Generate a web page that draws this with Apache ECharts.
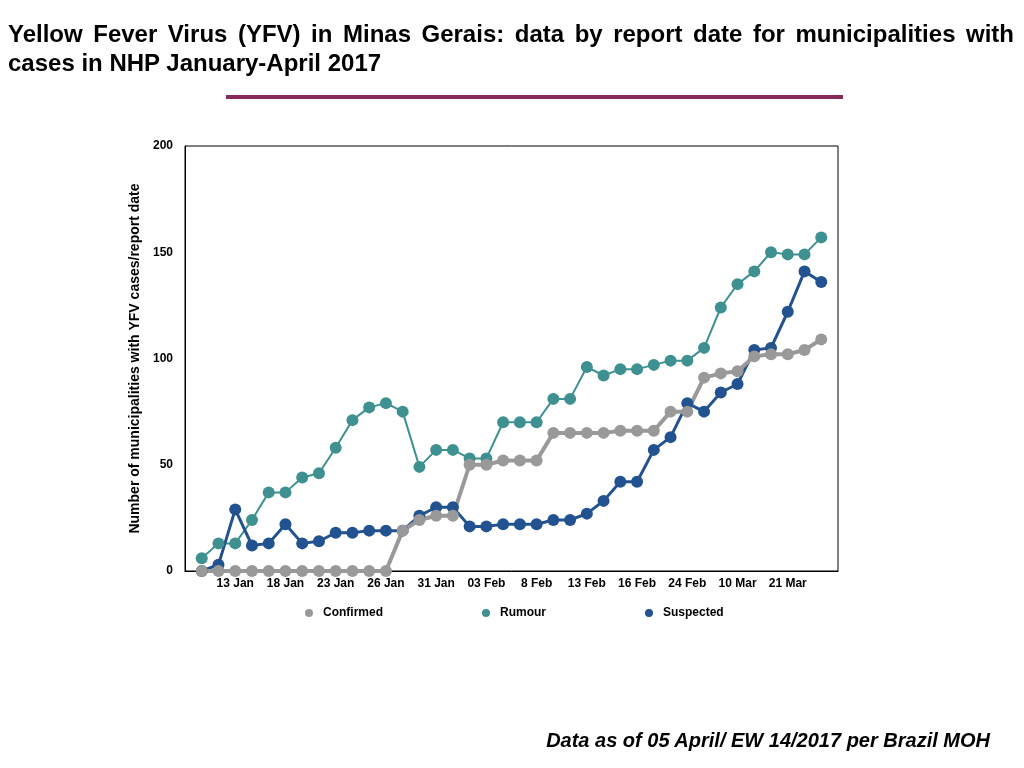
<!DOCTYPE html>
<html>
<head>
<meta charset="utf-8">
<script src="https://cdn.jsdelivr.net/npm/echarts@6/dist/echarts.min.js"></script>
<style>
  html, body { margin: 0; padding: 0; background: #fff; }
  #chart { position: absolute; left: 0; top: 0; width: 1024px; height: 768px; }
  .title { position: absolute; left: 8px; width: 1006px; font-family: 'Liberation Sans', Arial, sans-serif;
           font-weight: bold; font-size: 24px; color: #000; white-space: nowrap; }
  .l1 { top: 20px; text-align: justify; text-align-last: justify; }
  .l2 { top: 49px; }
  .rule { position: absolute; left: 226px; top: 95px; width: 617px; height: 4px; background: #862a57; }
  .foot { position: absolute; right: 34px; top: 729px; font-family: 'Liberation Sans', Arial, sans-serif;
          font-weight: bold; font-style: italic; font-size: 20px; color: #000; }
</style>
</head>
<body>
<div id="chart"></div>
<div class="title l1">Yellow Fever Virus (YFV) in Minas Gerais: data by report date for municipalities with</div>
<div class="title l2">cases in NHP January-April 2017</div>
<div class="rule"></div>
<div class="foot">Data as of 05 April/ EW 14/2017 per Brazil MOH</div>
<script>
// labels shown under every third report date
const tickLabels = ['13 Jan', '18 Jan', '23 Jan', '26 Jan', '31 Jan', '03 Feb',
  '8 Feb', '13 Feb', '16 Feb', '24 Feb', '10 Mar', '21 Mar']

const confirmed = [0, 0, 0, 0, 0, 0, 0, 0, 0, 0, 0, 0, 19, 24, 26, 26, 50, 50, 52, 52,
  52, 65, 65, 65, 65, 66, 66, 66, 75, 75, 91, 93, 94, 101, 102, 102, 104, 109]
const rumour = [6, 13, 13, 24, 37, 37, 44, 46, 58, 71, 77, 79, 75, 49, 57, 57, 53, 53, 70, 70,
  70, 81, 81, 96, 92, 95, 95, 97, 99, 99, 105, 124, 135, 141, 150, 149, 149, 157]
const suspected = [0, 3, 29, 12, 13, 22, 13, 14, 18, 18, 19, 19, 19, 26, 30, 30, 21, 21, 22, 22,
  22, 24, 24, 27, 33, 42, 42, 57, 63, 79, 75, 84, 88, 104, 105, 122, 141, 136]

const toPoints = arr => arr.map((v, i) => [i + 1, v])

const chart = echarts.init(document.getElementById('chart'))

const font = { fontFamily: 'Liberation Sans', fontWeight: 'bold', color: '#000' }

const option = {
  animation: false,
  grid: {
    left: 185, right: 186, top: 146, bottom: 197,
    show: true, borderColor: '#000', borderWidth: 1
  },
  legend: {
    top: 602,
    left: 300,
    itemGap: 99,
    itemWidth: 8,
    itemHeight: 8,
    icon: 'circle',
    data: ['Confirmed', 'Rumour', 'Suspected'],
    textStyle: { ...font, fontSize: 12, padding: [0, 0, 0, 5] }
  },
  xAxis: {
    type: 'value',
    min: 0,
    max: 39,
    interval: 3,
    splitLine: { show: false },
    axisTick: { show: false },
    axisLine: { show: true, lineStyle: { color: '#000' } },
    axisLabel: {
      ...font, fontSize: 12, margin: 7,
      formatter: v => tickLabels[v / 3 - 1] || ''
    }
  },
  yAxis: {
    type: 'value',
    min: 0,
    max: 200,
    interval: 50,
    name: 'Number of municipalities with YFV cases/report date',
    nameLocation: 'middle',
    nameGap: 38,
    nameTextStyle: { ...font, fontSize: 14 },
    splitLine: { show: false },
    axisTick: { show: false },
    axisLine: { show: true, lineStyle: { color: '#000' } },
    axisLabel: { ...font, fontSize: 12, margin: 12 }
  },
  series: [
    {
      name: 'Rumour', type: 'line', data: toPoints(rumour),
      symbol: 'circle', symbolSize: 12,
      itemStyle: { color: '#3e9190' },
      lineStyle: { width: 2, color: '#3e9190' }
    },
    {
      name: 'Suspected', type: 'line', data: toPoints(suspected),
      symbol: 'circle', symbolSize: 12,
      itemStyle: { color: '#22528f' },
      lineStyle: { width: 3, color: '#22528f' }
    },
    {
      name: 'Confirmed', type: 'line', data: toPoints(confirmed),
      symbol: 'circle', symbolSize: 12,
      itemStyle: { color: '#999999' },
      lineStyle: { width: 4, color: '#999999' }
    }
  ]
}

chart.setOption(option)
</script>
</body>
</html>
